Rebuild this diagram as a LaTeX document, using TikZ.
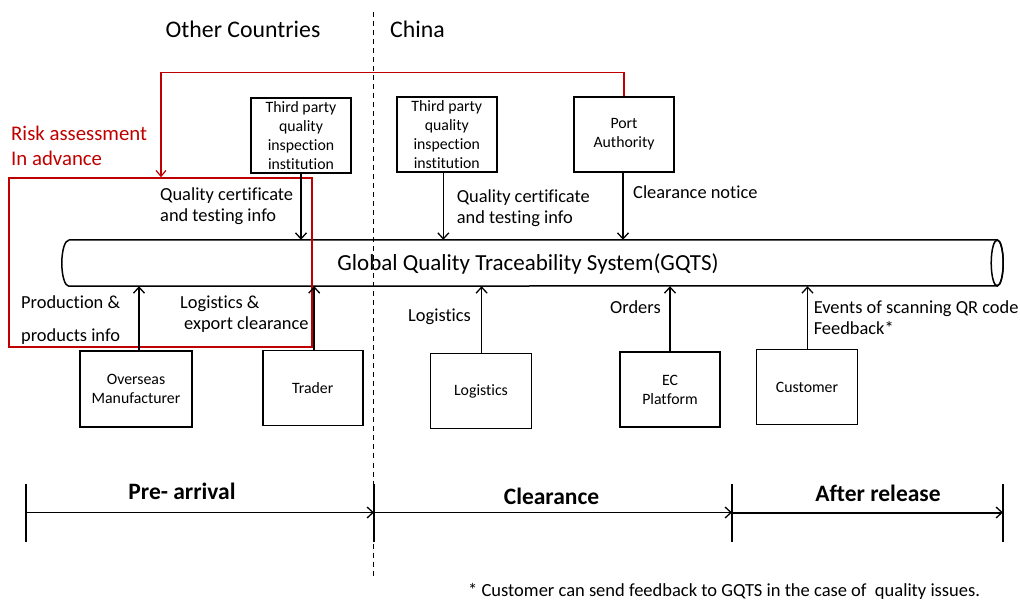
\documentclass[tikz,border=0pt]{standalone}
\usepackage{fontspec}
\setmainfont{Carlito}[Ligatures=NoCommon]
\usetikzlibrary{arrows.meta}
\definecolor{riskred}{HTML}{C00000}
\tikzset{
  box/.style={draw=black, line width=1.9pt, minimum width=100pt, minimum height=75pt, inner sep=0pt, align=center, font=\fontsize{15.8}{19}\selectfont},
  lbl/.style={anchor=base west, inner sep=0pt, font=\fontsize{18.4}{22}\selectfont},
  arr/.style={line width=1.6pt, -{Straight Barb[length=6pt,width=11pt,line width=1.3pt]}},
  redarr/.style={draw=riskred, line width=1.4pt, -{Straight Barb[length=6pt,width=10pt,line width=1.2pt]}},
  phase/.style={font=\bfseries\fontsize{23.5}{28}\selectfont, inner sep=0pt},
  head/.style={font=\fontsize{23.8}{28}\selectfont, inner sep=0pt, anchor=base west},
  tick/.style={line width=1.4pt},
}
\begin{document}
\begin{tikzpicture}[x=1pt,y=-1pt]
\useasboundingbox (0,0) rectangle (1020,601);
\fill[white] (0,0) rectangle (1020,601);

% divider
\coordinate (dtop) at (373,12.5);
\coordinate (dbot) at (373,578);
\draw[line width=1pt, dash pattern=on 5pt off 4pt] (dtop) -- (dbot);

% headers
\node[head] (hoc) at (165.5,37.3) {Other Countries};
\node[head] (hch) at (390,37.3) {China};

% GQTS cylinder
\node[minimum width=928pt, minimum height=46pt, inner sep=0pt] (gqts) at (533,263) {};
\draw[line width=1.5pt] (gqts.north west) -- (gqts.north east)
   arc[start angle=-90, end angle=90, x radius=6, y radius=23]
   -- (gqts.south west)
   arc[start angle=90, end angle=270, x radius=7, y radius=23];
\draw[line width=1.5pt] (gqts.east) ellipse[x radius=6, y radius=23];
\node[font=\fontsize{23}{27}\selectfont, inner sep=0pt] (gqtstext) at (528,263.5) {Global Quality Traceability System(GQTS)};

% boxes
\node[box] (tp1) at (301,135.2) {Third party\\quality\\inspection\\institution};
\node[box] (tp2) at (446.8,134.5) {Third party\\quality\\inspection\\institution};
\node[box] (port) at (624,134.5) {Port\\Authority};
\node[box, minimum width=112pt, minimum height=76pt] (manu) at (136,389) {Overseas\\Manufacturer};
\node[box] (trader) at (312.7,388) {Trader};
\node[box, minimum width=101pt] (logi) at (481,391) {Logistics};
\node[box] (ec) at (670,389.5) {EC\\Platform};
\node[box, minimum width=101pt] (cust) at (807,387) {Customer};

% red risk box
\node[draw=riskred, line width=1.4pt, minimum width=303pt, minimum height=169pt, inner sep=0pt] (risk) at (160.5,262.5) {};
\node[lbl, text=riskred, font=\fontsize{20.8}{25}\selectfont] (risk1) at (11,141) {Risk assessment};
\node[lbl, text=riskred, font=\fontsize{20.8}{25}\selectfont] (risk2) at (11,166) {In advance};
\coordinate (rtop) at (161,72.5);
\draw[redarr] (port.north) |- (rtop) -- (rtop |- risk.north);

% arrows down into GQTS
\draw[arr] (tp1.south) -- (tp1.south |- gqts.north);
\draw[arr] ([xshift=-3.5pt]tp2.south) -- ([xshift=-3.5pt]tp2.south |- gqts.north);
\draw[arr] ([xshift=-1pt]port.south) -- ([xshift=-1pt]port.south |- gqts.north);

% arrows up into GQTS
\draw[arr] ([xshift=3pt]manu.north) -- ([xshift=3pt]manu.north |- gqts.south);
\draw[arr, line width=2pt] ([xshift=1.5pt]trader.north) -- ([xshift=1.5pt]trader.north |- gqts.south);
\draw[arr] ([xshift=0.6pt]logi.north) -- ([xshift=0.6pt]logi.north |- gqts.south);
\draw[arr] (ec.north) -- (ec.north |- gqts.south);
\draw[arr] ([xshift=0.5pt]cust.north) -- ([xshift=0.5pt]cust.north |- gqts.south);

% labels
\node[lbl] (qc1a) at (160,200.5) {Quality certificate};
\node[lbl] (qc1b) at (160,222) {and testing info};
\node[lbl] (qc2a) at (456.6,202.7) {Quality certificate};
\node[lbl] (qc2b) at (456.6,224) {and testing info};
\node[lbl] (clr) at (633,198.3) {Clearance notice};
\node[lbl] (prod1) at (21,308.3) {Production \&};
\node[lbl] (prod2) at (21,341.7) {products info};
\node[lbl] (lex1) at (180,308.3) {Logistics \&};
\node[lbl] (lex2) at (184,330) {export clearance};
\node[lbl] (logl) at (408,321.7) {Logistics};
\node[lbl] (ord) at (610,313.3) {Orders};
\node[lbl] (ev1) at (813.6,313.3) {Events of scanning QR code};
\node[lbl] (ev2) at (813.6,335) {Feedback*};

% timeline
\coordinate (t0) at (26,512.5);
\coordinate (t1) at (374,512.5);
\coordinate (t2) at (732,512.5);
\coordinate (t3) at (1003,512.5);
\foreach \t in {t0,t1,t2,t3} {\draw[tick] ([yshift=-29.5pt]\t) -- ([yshift=29pt]\t);}
\draw[arr] (t0) -- (t1);
\draw[arr] (t1) -- (t2);
\draw[arr, line width=2pt] (t2) -- (t3);
\node[phase] (pre) at (182,491) {Pre- arrival};
\node[phase] (clrp) at (551.5,496) {Clearance};
\node[phase] (aft) at (878,493) {After release};

% footnote
\node[lbl, font=\fontsize{18.5}{22}\selectfont] (foot) at (468,596.5) {* Customer can send feedback to GQTS in the case of\ \ quality issues.};
\end{tikzpicture}
\end{document}
